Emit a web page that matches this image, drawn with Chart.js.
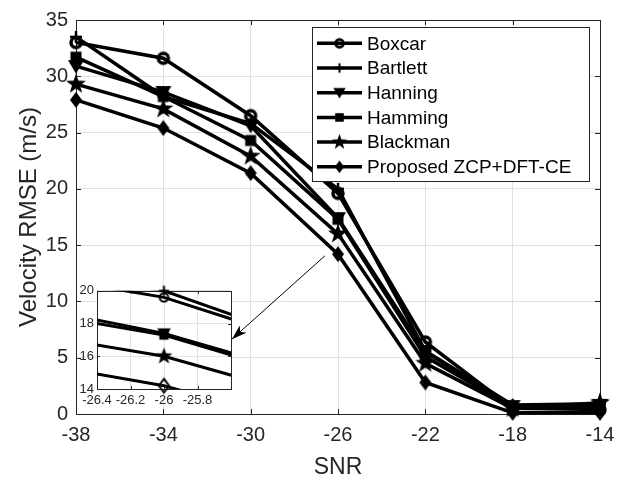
<!DOCTYPE html>
<html>
<head>
<meta charset="utf-8">
<script src="https://cdn.jsdelivr.net/npm/chart.js@4"></script>
<style>
html, body { margin: 0; padding: 0; background: #fff; }
#wrap { position: relative; width: 624px; height: 481px; }
#mainChart { position: absolute; left: 0; top: 0; }
#insetChart { position: absolute; left: 56px; top: 280px; }
</style>
</head>
<body>
<div id="wrap">
  <canvas id="mainChart" width="624" height="481"></canvas>
  <canvas id="insetChart" width="190" height="135"></canvas>
</div>
<script>
// data
const snr = [-38, -34, -30, -26, -22, -18, -14];
const boxcar   = [33.0, 31.6, 26.5, 19.6, 6.4, 0.5, 0.4];
const bartlett = [33.5, 28.2, 25.8, 20.0, 5.6, 0.8, 0.9];
const hanning  = [30.9, 28.6, 25.6, 17.4, 5.5, 0.7, 0.8];
const hamming  = [31.7, 28.2, 24.3, 17.3, 5.1, 0.6, 0.6];
const blackman = [29.3, 27.1, 22.9, 16.0, 4.5, 0.5, 1.0];
const proposed = [27.9, 25.4, 21.4, 14.2, 2.8, 0.1, 0.1];

const seriesNames = ["Boxcar", "Bartlett", "Hanning", "Hamming", "Blackman", "Proposed ZCP+DFT-CE"];
const seriesValues = [boxcar, bartlett, hanning, hamming, blackman, proposed];
const markerKinds = ["circle", "plus", "tri", "square", "star", "diamond"];

const xTicks = [-38, -34, -30, -26, -22, -18, -14];
const yTicks = [0, 5, 10, 15, 20, 25, 30, 35];
const insetXTicks = [-26.4, -26.2, -26, -25.8];
const insetYTicks = [14, 16, 18, 20];
const zoomAt = -26;

const FONT = "'Liberation Sans', Arial, sans-serif";
const AXIS = "#262626";
const GRID = "#e1e1e1";

Chart.defaults.font.family = FONT;
Chart.defaults.color = AXIS;

// marker images (MATLAB-like)
function marker(kind, k, hollow) {
  const c = document.createElement("canvas");
  const n = Math.ceil(26 * k);
  c.width = n; c.height = n;
  const g = c.getContext("2d");
  g.translate(n / 2, n / 2);
  g.fillStyle = "#000";
  g.strokeStyle = "#000";
  g.beginPath();
  if (kind === "circle") {
    g.arc(0, 0, 5 * k, 0, Math.PI * 2);
    g.lineWidth = hollow ? 2 : 3.5 * k;
    g.stroke();
  } else if (kind === "plus") {
    g.lineWidth = 2.5 * k;
    g.moveTo(0, -6 * k); g.lineTo(0, 6 * k);
    g.moveTo(-6 * k, 0); g.lineTo(6 * k, 0);
    g.stroke();
  } else if (kind === "tri") {
    g.moveTo(-8 * k, -6 * k); g.lineTo(8 * k, -6 * k); g.lineTo(0, 7.5 * k);
    g.closePath(); g.fill();
  } else if (kind === "square") {
    g.rect(-5.5 * k, -5.5 * k, 11 * k, 11 * k);
    g.fill();
  } else if (kind === "star") {
    const R = 10.5 * k, r = R * 0.40;
    for (let i = 0; i < 10; i++) {
      const a = -Math.PI / 2 + i * Math.PI / 5;
      const rr = i % 2 ? r : R;
      g.lineTo(Math.cos(a) * rr, Math.sin(a) * rr);
    }
    g.closePath(); g.fill();
  } else if (kind === "diamond") {
    g.moveTo(0, -8 * k); g.lineTo(6 * k, 0); g.lineTo(0, 8 * k); g.lineTo(-6 * k, 0);
    g.closePath();
    if (hollow) { g.lineWidth = 2; g.stroke(); } else { g.fill(); }
  }
  return c;
}

const mainMarkers = markerKinds.map(m => marker(m, 1, false));
const legendMarkers = markerKinds.map(m => marker(m, 0.78, false));
const insetMarkers = markerKinds.map(m => marker(m, 0.85, true));

function setTicks(arr) {
  return s => { s.ticks = arr.map(v => ({ value: v })); };
}

function drawBox(chart, tickLen) {
  const { ctx, chartArea: a, scales } = chart;
  ctx.save();
  ctx.strokeStyle = AXIS;
  ctx.lineWidth = 1;
  ctx.strokeRect(Math.round(a.left) + 0.5, Math.round(a.top) + 0.5,
    Math.round(a.right - a.left), Math.round(a.bottom - a.top));
  ctx.beginPath();
  scales.x.ticks.forEach(t => {
    const px = Math.round(scales.x.getPixelForValue(t.value)) + 0.5;
    ctx.moveTo(px, a.bottom); ctx.lineTo(px, a.bottom - tickLen);
    ctx.moveTo(px, a.top); ctx.lineTo(px, a.top + tickLen);
  });
  scales.y.ticks.forEach(t => {
    const py = Math.round(scales.y.getPixelForValue(t.value)) + 0.5;
    ctx.moveTo(a.left, py); ctx.lineTo(a.left + tickLen, py);
    ctx.moveTo(a.right, py); ctx.lineTo(a.right - tickLen, py);
  });
  ctx.stroke();
  ctx.restore();
}

const mainPlugin = {
  id: "mainDecor",
  beforeDatasetsDraw(chart) { drawBox(chart, 5); },
  afterDatasetsDraw(chart) {
    // arrow pointing to the zoomed region
    const { ctx, scales } = chart;
    const x0 = scales.x.getPixelForValue(-26.6), y0 = scales.y.getPixelForValue(14.05);
    const x1 = scales.x.getPixelForValue(-30.86), y1 = scales.y.getPixelForValue(6.65);
    const ang = Math.atan2(y1 - y0, x1 - x0);
    ctx.save();
    ctx.strokeStyle = "#000";
    ctx.fillStyle = "#000";
    ctx.lineWidth = 1;
    ctx.beginPath(); ctx.moveTo(x0, y0); ctx.lineTo(x1, y1); ctx.stroke();
    ctx.translate(x1, y1); ctx.rotate(ang);
    ctx.beginPath();
    ctx.moveTo(0, 0); ctx.lineTo(-15, -5); ctx.lineTo(-11, 0); ctx.lineTo(-15, 5);
    ctx.closePath(); ctx.fill();
    ctx.restore();
  },
  afterDraw(chart) {
    const ctx = chart.ctx;
    const bx = 312, by = 27, bw = 277, bh = 154, row = 24.7, first = 43.3;
    ctx.save();
    ctx.fillStyle = "#fff";
    ctx.fillRect(bx, by, bw, bh);
    ctx.strokeStyle = AXIS;
    ctx.lineWidth = 1;
    ctx.strokeRect(bx + 0.5, by + 0.5, bw, bh);
    ctx.font = "19px " + FONT;
    ctx.textBaseline = "middle";
    seriesNames.forEach((name, i) => {
      const y = first + i * row;
      ctx.strokeStyle = "#000";
      ctx.lineWidth = 3.5;
      ctx.beginPath(); ctx.moveTo(bx + 5, y); ctx.lineTo(bx + 50, y); ctx.stroke();
      const m = legendMarkers[i];
      ctx.drawImage(m, bx + 27.5 - m.width / 2, y - m.height / 2);
      ctx.fillStyle = "#000";
      ctx.fillText(name, bx + 55, y + 1);
    });
    ctx.restore();
  }
};

new Chart(document.getElementById("mainChart"), {
  type: "line",
  data: {
    datasets: seriesValues.map((vals, i) => ({
      label: seriesNames[i],
      data: snr.map((x, j) => ({ x: x, y: vals[j] })),
      borderColor: "#000",
      backgroundColor: "#000",
      borderWidth: 3.5,
      pointStyle: mainMarkers[i],
      pointRadius: 5,
      tension: 0,
      clip: false
    }))
  },
  options: {
    responsive: false,
    animation: false,
    devicePixelRatio: 1,
    layout: { padding: { left: 0, top: 15, right: 24, bottom: 0 } },
    plugins: { legend: { display: false }, tooltip: { enabled: false } },
    scales: {
      x: {
        type: "linear", min: -38, max: -14,
        afterBuildTicks: setTicks(xTicks),
        afterFit: s => { s.height = 67; },
        grid: { color: GRID, drawTicks: false },
        border: { display: false },
        ticks: { font: { size: 20 }, padding: 9, color: AXIS, callback: v => String(v) },
        title: { display: true, text: "SNR", font: { size: 23 }, color: AXIS, padding: { top: 2, bottom: 0 } }
      },
      y: {
        type: "linear", min: 0, max: 35,
        afterBuildTicks: setTicks(yTicks),
        afterFit: s => { s.width = 76; },
        grid: { color: GRID, drawTicks: false },
        border: { display: false },
        ticks: { font: { size: 20 }, padding: 8, color: AXIS, callback: v => String(v) },
        title: { display: true, text: "Velocity RMSE (m/s)", font: { size: 24 }, color: AXIS, padding: { top: 15, bottom: 0 } }
      }
    }
  },
  plugins: [mainPlugin]
});

// zoomed inset around SNR = -26
const insetPlugin = {
  id: "insetDecor",
  beforeDraw(chart) {
    const a = chart.chartArea;
    chart.ctx.save();
    chart.ctx.fillStyle = "#fff";
    chart.ctx.fillRect(a.left, a.top, a.right - a.left, a.bottom - a.top);
    chart.ctx.restore();
  },
  beforeDatasetsDraw(chart) { drawBox(chart, 3); }
};

const insetLines = seriesValues.map((vals, i) => ({
  data: snr.map((x, j) => ({ x: x, y: vals[j] })),
  borderColor: "#000",
  borderWidth: 3,
  pointRadius: 0,
  tension: 0
}));
const zi = snr.indexOf(zoomAt);
const insetPoints = seriesValues.map((vals, i) => ({
  data: [{ x: zoomAt, y: vals[zi] }],
  showLine: false,
  pointStyle: insetMarkers[i],
  pointRadius: 5,
  clip: false
}));

new Chart(document.getElementById("insetChart"), {
  type: "line",
  data: { datasets: insetPoints.concat(insetLines) },
  options: {
    responsive: false,
    animation: false,
    devicePixelRatio: 1,
    layout: { padding: { left: 0, top: 9, right: 15, bottom: 0 } },
    plugins: { legend: { display: false }, tooltip: { enabled: false } },
    scales: {
      x: {
        type: "linear", min: -26.4, max: -25.6,
        afterBuildTicks: setTicks(insetXTicks),
        afterFit: s => { s.height = 26; },
        grid: { color: GRID, drawTicks: false },
        border: { display: false },
        ticks: { font: { size: 13 }, padding: 4, color: AXIS, callback: v => String(v) }
      },
      y: {
        type: "linear", min: 14, max: 20,
        afterBuildTicks: setTicks(insetYTicks),
        afterFit: s => { s.width = 41; },
        grid: { color: GRID, drawTicks: false },
        border: { display: false },
        ticks: { font: { size: 13 }, padding: 3, color: AXIS, callback: v => String(v) }
      }
    }
  },
  plugins: [insetPlugin]
});
</script>
</body>
</html>
